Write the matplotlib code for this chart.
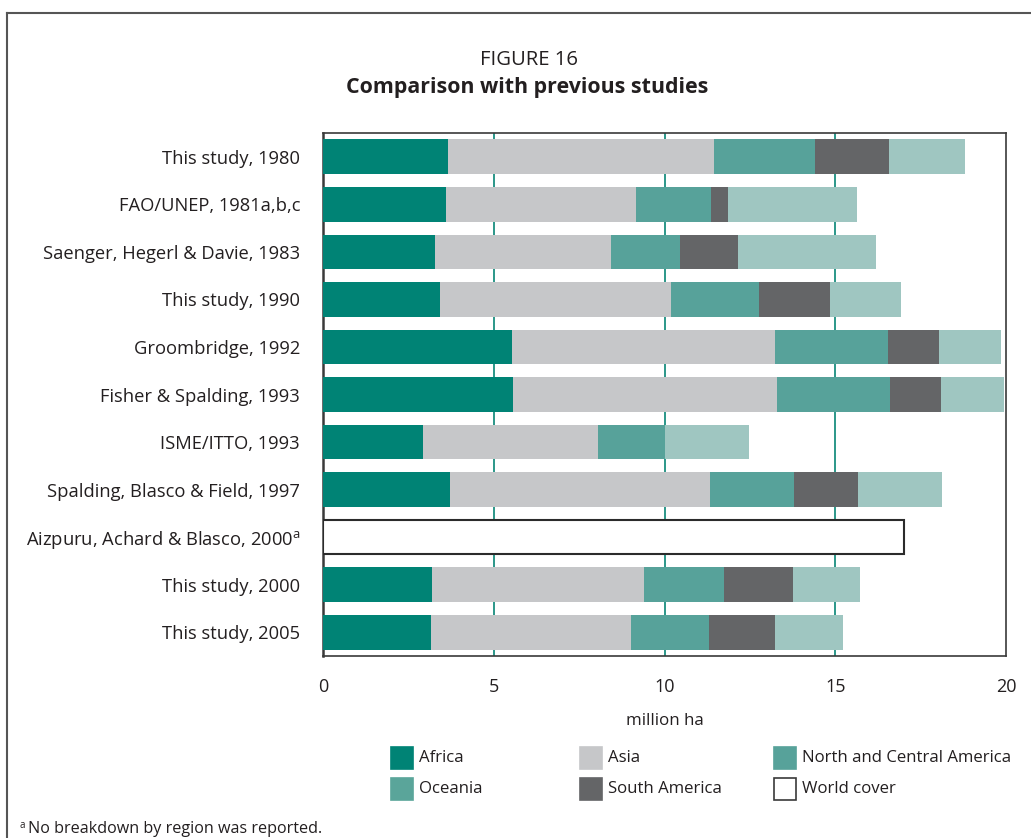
import numpy as np
import matplotlib
matplotlib.use("Agg")
import matplotlib.pyplot as plt
from matplotlib.patches import Rectangle
from matplotlib.lines import Line2D

plt.rcParams["font.family"] = ["Open Sans", "DejaVu Sans"]
plt.rcParams["mathtext.fontset"] = "custom"
plt.rcParams["mathtext.rm"] = "Open Sans"

# ---- data (million ha) ----
studies = [
    "This study, 1980",
    "FAO/UNEP, 1981a,b,c",
    "Saenger, Hegerl & Davie, 1983",
    "This study, 1990",
    "Groombridge, 1992",
    "Fisher & Spalding, 1993",
    "ISME/ITTO, 1993",
    "Spalding, Blasco & Field, 1997",
    "Aizpuru, Achard & Blasco, 2000$^{\\mathrm{a}}$",
    "This study, 2000",
    "This study, 2005",
]
africa = [3.67, 3.60, 3.27, 3.44, 5.53, 5.57, 2.94, 3.72, 0, 3.20, 3.17]
asia = [7.77, 5.58, 5.16, 6.74, 7.72, 7.71, 5.11, 7.60, 0, 6.19, 5.85]
n_c_america = [2.97, 2.17, 2.02, 2.58, 3.30, 3.32, 1.95, 2.48, 0, 2.34, 2.28]
south_america = [2.17, 0.52, 1.70, 2.10, 1.49, 1.50, 0, 1.88, 0, 2.02, 1.95]
oceania = [2.21, 3.77, 4.05, 2.07, 1.81, 1.84, 2.46, 2.45, 0, 1.98, 1.98]
world_cover = [0, 0, 0, 0, 0, 0, 0, 0, 17.02, 0, 0]

segments = [africa, asia, n_c_america, south_america, oceania]
seg_colors = ["#008375", "#c6c7c9", "#57a29a", "#646567", "#9fc6c1"]
TXT = "#231f20"

# ---- figure ----
fig = plt.figure(figsize=(10.31, 8.38), dpi=100)
ax = fig.add_axes([323 / 1031, 1 - 656 / 838, (1006 - 323) / 1031, (656 - 133) / 838])

y = np.arange(len(studies))
left = np.zeros(len(studies))
for vals, col in zip(segments, seg_colors):
    ax.barh(y, vals, left=left, height=0.73, color=col, linewidth=0, zorder=3)
    left += np.array(vals)

wc = np.array(world_cover)
mask = wc > 0
ax.barh(y[mask], wc[mask], height=0.73, facecolor="white",
        edgecolor="#2b2b2b", linewidth=1.5, zorder=3)

ax.set_xlim(0, 20)
ax.set_ylim(10.5, -0.5)
ax.set_xticks([0, 5, 10, 15, 20])
ax.set_yticks(y)
ax.set_yticklabels(studies, fontsize=13.2, color=TXT)
ax.tick_params(axis="both", length=0)
ax.tick_params(axis="y", pad=16.5)
ax.tick_params(axis="x", pad=16, labelsize=13, labelcolor=TXT)
for xv in [5, 10, 15]:
    ax.axvline(xv, color="#1a8f80", linewidth=1.3, zorder=1)
for sp in ax.spines.values():
    sp.set_color("#3a3a3a")
    sp.set_linewidth(1.2)
ax.spines["left"].set_linewidth(1.8)

ax.set_xlabel("million ha", fontsize=12.2, color=TXT, labelpad=12)

# ---- titles ----
fig.text(529 / 1031, 1 - 60 / 838, "FIGURE 16", ha="center", va="center",
         fontsize=14.6, color=TXT)
fig.text(527 / 1031, 1 - 88 / 838, "Comparison with previous studies", ha="center",
         va="center", fontsize=15.4, fontweight="bold", color=TXT)

# ---- legend (drawn as in the original) ----
legend_items = [
    (391, 758, "#008375", "Africa"),
    (580, 758, "#c6c7c9", "Asia"),
    (774, 758, "#57a29a", "North and Central America"),
    (391, 789, "#5aa59a", "Oceania"),
    (580, 789, "#646567", "South America"),
    (774, 789, "white", "World cover"),
]
for px, py, col, lab in legend_items:
    w, h = 22, 22
    fig.patches.append(Rectangle((px / 1031, 1 - (py + h / 2) / 838), w / 1031, h / 838,
                                 transform=fig.transFigure, facecolor=col,
                                 edgecolor="#3a3a3a" if col == "white" else col,
                                 linewidth=1.2))
    fig.text((px + 28) / 1031, 1 - py / 838, lab, ha="left", va="center",
             fontsize=12.1, color=TXT)

# ---- footnote ----
fig.text(20 / 1031, 1 - 825 / 838, "a", fontsize=7, color=TXT, ha="left", va="center")
fig.text(28 / 1031, 1 - 829 / 838, "No breakdown by region was reported.",
         fontsize=11.6, color=TXT, ha="left", va="center")

# ---- outer frame ----
fig.lines.append(Line2D([7 / 1031, 7 / 1031], [0, 1 - 13 / 838], transform=fig.transFigure,
                        color="#555555", linewidth=1.5))
fig.lines.append(Line2D([7 / 1031, 1], [1 - 13 / 838, 1 - 13 / 838], transform=fig.transFigure,
                        color="#555555", linewidth=1.5))

fig.savefig("out.png", dpi=100, facecolor="white")
